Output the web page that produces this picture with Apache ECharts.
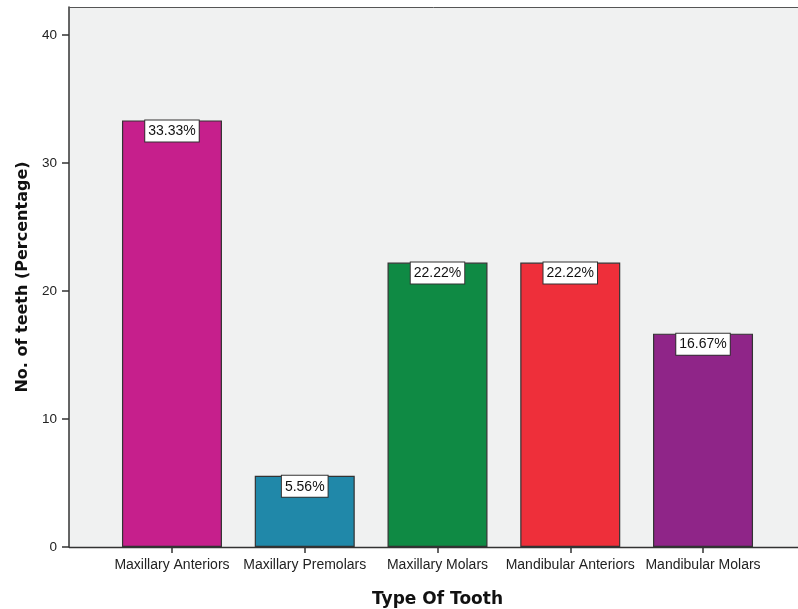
<!DOCTYPE html>
<html><head><meta charset="utf-8">
<script src="https://cdn.jsdelivr.net/npm/echarts@6/dist/echarts.min.js"></script>
<style>html,body{margin:0;padding:0;background:#fff}#c{width:798px;height:609px}</style>
</head><body><div id="c"></div>
<script>
const categories = ['Maxillary Anteriors','Maxillary Premolars','Maxillary Molars','Mandibular Anteriors','Mandibular Molars'];
const values = [33.33, 5.56, 22.22, 22.22, 16.67];
const barColors = ['#c61f8c','#2088a9','#0f8a44','#ee2f3a','#8f2588'];
const yTicks = [0, 10, 20, 30, 40];

const chart = echarts.init(document.getElementById('c'));
const plotL = 69, plotR = 797, plotT = 7, plotB = 547;
chart.setOption({
  animation: false,
  textStyle: {fontFamily: 'Arial, Liberation Sans, sans-serif'},
  graphic: [
    {type: 'rect', z: -10, silent: true, shape: {x: plotL, y: plotT, width: plotR - plotL + 1, height: plotB - plotT}, style: {fill: '#f0f1f1'}},
    {type: 'line', z: 10, silent: true, shape: {x1: plotL, y1: plotT + 0.5, x2: plotR + 1, y2: plotT + 0.5}, style: {stroke: '#555', lineWidth: 1}},
    {type: 'line', z: 10, silent: true, shape: {x1: plotL, y1: plotB + 0.5, x2: plotR + 1, y2: plotB + 0.5}, style: {stroke: '#333', lineWidth: 1.5}}
  ],
  grid: {left: 105.6, right: 28.6, top: plotT, bottom: 609 - plotB, containLabel: false, outerBoundsMode: 'none'},
  xAxis: {
    type: 'category', data: categories,
    axisLine: {show: false},
    axisTick: {show: true, alignWithLabel: true, length: 6, lineStyle: {color: '#333', width: 1.5}},
    axisLabel: {color: '#222', fontSize: 14, margin: 11, interval: 0},
    name: 'Type Of Tooth', nameLocation: 'middle', nameGap: 44,
    nameTextStyle: {fontWeight: 'bold', fontSize: 17, color: '#111', fontFamily: 'DejaVu Sans'}
  },
  yAxis: {
    type: 'value', min: 0, max: 42.19, interval: 10, offset: 36.6,
    axisLine: {show: true, lineStyle: {color: '#333', width: 1.5}},
    axisTick: {show: true, length: 7, lineStyle: {color: '#333', width: 1.5}},
    axisLabel: {color: '#222', fontSize: 13.5, margin: 12, showMaxLabel: false,
      formatter: v => yTicks.includes(v) ? String(v) : ''},
    splitLine: {show: false},
    name: 'No. of teeth (Percentage)', nameLocation: 'middle', nameGap: 37,
    nameTextStyle: {fontWeight: 'bold', fontSize: 16, color: '#111', fontFamily: 'DejaVu Sans'}
  },
  series: [{
    type: 'bar', barWidth: 100,
    data: values.map((v, i) => ({value: v, itemStyle: {color: barColors[i]}})),
    itemStyle: {borderColor: '#333', borderWidth: 1.2},
    label: {
      show: true, position: 'insideTop', distance: 0,
      formatter: p => p.value.toFixed(2) + '%',
      color: '#111', fontSize: 14,
      backgroundColor: '#fff', borderColor: '#333', borderWidth: 1,
      padding: [4, 3, 3, 3]
    }
  }]
});
</script></body></html>
